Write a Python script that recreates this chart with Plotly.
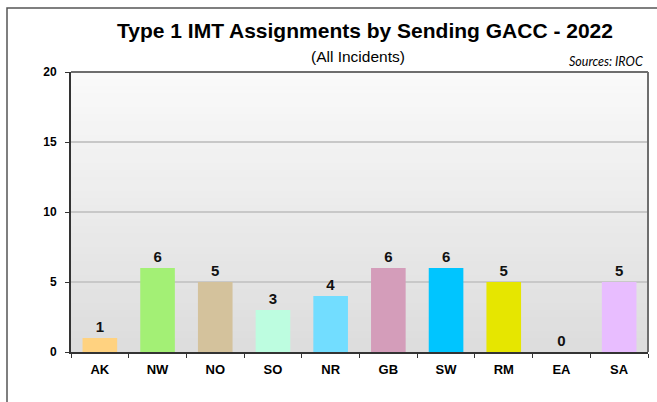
import plotly.graph_objects as go

# data
gaccs = ['AK', 'NW', 'NO', 'SO', 'NR', 'GB', 'SW', 'RM', 'EA', 'SA']
assignments = [1, 6, 5, 3, 4, 6, 6, 5, 0, 5]
bar_colors = ['#FFD280', '#A3F075', '#D4C29C', '#BDFDE0', '#72DDFF',
              '#D49DBA', '#00C5FF', '#E6E600', '#CCCCCC', '#E8BDFF']
y_ticks = [0, 5, 10, 15, 20]

W, H = 657, 402
ml, mr, mt, mb = 71, 9, 72, 50
pw, ph = W - ml - mr, H - mt - mb

fig = go.Figure()
fig.add_trace(go.Bar(
    x=gaccs, y=assignments,
    marker=dict(color=bar_colors, line=dict(width=0)),
    width=0.6,
    text=assignments, texttemplate='%{text}',
    textposition='outside', cliponaxis=False,
    textfont=dict(family='Liberation Sans, Arial', size=15, color='#111111', weight='bold'),
))

# grey gradient for the plot area, drawn as thin stripes
shapes = []
n = 40
for i in range(n):
    t = i / (n - 1)
    c = int(250 - (250 - 221) * (1 - t))
    shapes.append(dict(type='rect', xref='x domain', yref='y domain',
                       x0=0, x1=1, y0=i / n, y1=(i + 1) / n,
                       fillcolor='rgb(%d,%d,%d)' % (c, c, c),
                       line=dict(width=0), layer='below'))
# top / right frame of plot area
shapes.append(dict(type='line', xref='x domain', yref='y domain',
                   x0=0, x1=1, y0=1, y1=1, line=dict(color='#6e6e6e', width=2)))
shapes.append(dict(type='line', xref='x domain', yref='y domain',
                   x0=1, x1=1, y0=0, y1=1, line=dict(color='#6e6e6e', width=2)))
# outer chart border (runs off the right and bottom of the picture)
shapes.append(dict(type='rect', xref='paper', yref='paper',
                   x0=(7 - ml) / pw, x1=(680 - ml) / pw,
                   y0=(H - 300 - mt - ph) / ph, y1=(H - 8 - mb) / ph,
                   line=dict(color='#555555', width=1.5), fillcolor='rgba(0,0,0,0)',
                   layer='below'))

annotations = [
    dict(text='Type 1 IMT Assignments by Sending GACC - 2022',
         xref='paper', yref='paper', x=(365 - ml) / pw, y=(H - 30 - mb) / ph,
         xanchor='center', yanchor='middle', showarrow=False,
         font=dict(family='Liberation Sans, Arial', size=21, color='#000000', weight='bold')),
    dict(text='(All Incidents)',
         xref='paper', yref='paper', x=(358 - ml) / pw, y=(H - 57 - mb) / ph,
         xanchor='center', yanchor='middle', showarrow=False,
         font=dict(family='Liberation Sans, Arial', size=15.5, color='#000000')),
    dict(text='<i>Sources: IROC</i>',
         xref='paper', yref='paper', x=(645 - ml) / pw, y=(H - 62 - mb) / ph,
         xanchor='right', yanchor='middle', showarrow=False,
         font=dict(family='Lato, Open Sans', size=12.5, color='#000000')),
]

fig.update_layout(
    width=W, height=H,
    margin=dict(l=ml, r=mr, t=mt, b=mb),
    paper_bgcolor='white', plot_bgcolor='rgba(0,0,0,0)',
    showlegend=False, bargap=0.4,
    shapes=shapes, annotations=annotations,
    font=dict(family='Liberation Sans, Arial', color='#000000'),
)
fig.update_xaxes(
    showline=True, linecolor='#333333', linewidth=2,
    ticks='outside', tickson='boundaries', ticklen=4, tickcolor='#333333',
    tickfont=dict(size=13, family='Liberation Sans, Arial', color='#000000', weight='bold'),
    ticklabelstandoff=4, showgrid=False,
)
fig.update_yaxes(
    range=[0, 20], tickvals=y_ticks, showline=True, linecolor='#333333', linewidth=2,
    ticks='outside', ticklen=4, tickcolor='#333333',
    gridcolor='#c8c8c8', gridwidth=1.5, zeroline=False,
    tickfont=dict(size=12, family='Liberation Sans, Arial', color='#000000', weight='bold'),
    ticklabelstandoff=6,
)

# drop the default page margin so the figure sits at the window origin
fig.write_html("out.html", config={'displayModeBar': False},
               post_script="document.body.style.margin='0';")
